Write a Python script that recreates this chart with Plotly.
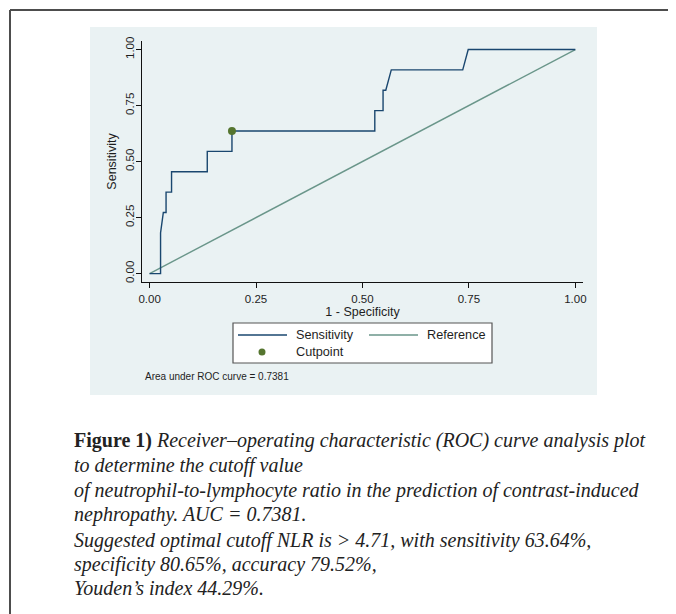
import plotly.graph_objects as go

# ---- data ----
fpr = [0.0, 0.0258, 0.0258, 0.0323, 0.0387, 0.0387, 0.0516, 0.0516, 0.1355, 0.1355,
       0.1935, 0.1935, 0.5290, 0.5290, 0.5484, 0.5484, 0.5548, 0.5677, 0.7355, 0.7484, 1.0]
tpr = [0.0, 0.0, 0.1818, 0.2727, 0.2727, 0.3636, 0.3636, 0.4545, 0.4545, 0.5455,
       0.5455, 0.6364, 0.6364, 0.7273, 0.7273, 0.8182, 0.8182, 0.9091, 0.9091, 1.0, 1.0]
ref_x = [0.0, 1.0]
ref_y = [0.0, 1.0]
cut_x = [0.1935]
cut_y = [0.6364]
tick_vals = [0.0, 0.25, 0.5, 0.75, 1.0]
tick_text = ["0.00", "0.25", "0.50", "0.75", "1.00"]
auc_text = "Area under ROC curve = 0.7381"
legend_names = ["Sensitivity", "Reference", "Cutpoint"]
caption_lines = [
    "<b>Figure 1)</b> <i>Receiver–operating characteristic (ROC) curve analysis plot</i>",
    "<i>to determine the cutoff value</i>",
    "<i>of neutrophil-to-lymphocyte ratio in the prediction of contrast-induced</i>",
    "<i>nephropathy. AUC = 0.7381.</i>",
    "<i>Suggested optimal cutoff NLR is &gt; 4.71, with sensitivity 63.64%,</i>",
    "<i>specificity 80.65%, accuracy 79.52%,</i>",
    "<i>Youden’s index 44.29%.</i>",
]

NAVY = "#1a476f"
TEAL = "#6a968a"
GREEN = "#55752f"
PANEL = "#eaf2f3"
SANS = "Liberation Sans, Arial, sans-serif"
SERIF = "Liberation Serif, Times New Roman, serif"

OFF = 8                     # page body margin
W_FIG, H_FIG = 676 - OFF, 614 - OFF
L, R, T, B = 142 - OFF, 583 - OFF, 41 - OFF, 282 - OFF
PW, PH = R - L, B - T


def px(x):
    return (x - OFF - L) / PW


def py(y):
    return (B - (y - OFF)) / PH


fig = go.Figure()
fig.add_trace(go.Scatter(x=ref_x, y=ref_y, mode="lines", name=legend_names[1],
                         line=dict(color=TEAL, width=1.4), showlegend=False, hoverinfo="skip"))
fig.add_trace(go.Scatter(x=fpr, y=tpr, mode="lines", name=legend_names[0],
                         line=dict(color=NAVY, width=1.4), showlegend=False))
fig.add_trace(go.Scatter(x=cut_x, y=cut_y, mode="markers", name=legend_names[2],
                         marker=dict(color=GREEN, size=8), showlegend=False))

shapes = []
# outer frame (top and left)
shapes.append(dict(type="line", xref="paper", yref="paper", x0=px(10), x1=px(690), y0=py(10), y1=py(10),
                   line=dict(color="#4d4d4d", width=2)))
shapes.append(dict(type="line", xref="paper", yref="paper", x0=px(10), x1=px(10), y0=py(10), y1=py(630),
                   line=dict(color="#4d4d4d", width=2)))
# graph region panel
shapes.append(dict(type="rect", xref="paper", yref="paper", x0=px(90), x1=px(597), y0=py(27), y1=py(395),
                   fillcolor=PANEL, line=dict(width=0), layer="below"))
# legend box
shapes.append(dict(type="rect", xref="paper", yref="paper", x0=px(233), x1=px(492), y0=py(323), y1=py(363),
                   fillcolor="white", line=dict(color="#555555", width=1.2)))
shapes.append(dict(type="line", xref="paper", yref="paper", x0=px(238), x1=px(287), y0=py(335), y1=py(335),
                   line=dict(color=NAVY, width=1.4)))
shapes.append(dict(type="line", xref="paper", yref="paper", x0=px(369), x1=px(418), y0=py(335), y1=py(335),
                   line=dict(color=TEAL, width=1.4)))
shapes.append(dict(type="circle", xref="paper", yref="paper", x0=px(258.5), x1=px(265.5), y0=py(348.5), y1=py(355.5),
                   fillcolor=GREEN, line=dict(color=GREEN, width=0)))

annotations = []
for txt, x, y in [(legend_names[0], 294, 335), (legend_names[1], 425, 335), (legend_names[2], 294, 352)]:
    annotations.append(dict(text=txt, xref="paper", yref="paper", x=px(x), y=py(y), xanchor="left",
                            yanchor="middle", showarrow=False, font=dict(family=SANS, size=12.7, color="#1e1e1e")))
annotations.append(dict(text=auc_text, xref="paper", yref="paper", x=px(143), y=py(376), xanchor="left",
                        yanchor="middle", showarrow=False, font=dict(family=SANS, size=10, color="#1e1e1e")))
cap_y = [441, 465, 490, 514, 540, 564, 588]
for txt, y in zip(caption_lines, cap_y):
    annotations.append(dict(text=txt, xref="paper", yref="paper", x=px(72), y=py(y), xanchor="left",
                            yanchor="middle", showarrow=False, font=dict(family=SERIF, size=20, color="#222222")))

axis_common = dict(
    tickvals=tick_vals, ticktext=tick_text, showgrid=True, gridcolor=PANEL, gridwidth=1,
    zeroline=False, showline=True, linecolor="#111111", linewidth=1.3,
    ticks="outside", ticklen=5, tickcolor="#111111", tickwidth=1,
    tickfont=dict(family=SANS, size=11.5, color="#1e1e1e"),
)

fig.update_layout(
    width=W_FIG, height=H_FIG,
    margin=dict(l=L, r=W_FIG - R, t=T, b=H_FIG - B),
    paper_bgcolor="white", plot_bgcolor="white",
    showlegend=False,
    xaxis=dict(range=[-0.0178, 1.018], title=dict(text="1 - Specificity", standoff=0,
               font=dict(family=SANS, size=12.5, color="#1e1e1e")), ticklabelstandoff=1, **axis_common),
    yaxis=dict(range=[-0.0375, 1.038], tickangle=-90, ticklabelstandoff=-3,
               title=dict(text="Sensitivity", standoff=4,
               font=dict(family=SANS, size=12.5, color="#1e1e1e")), **axis_common),
    shapes=shapes, annotations=annotations,
)

fig.write_html("out.html")
